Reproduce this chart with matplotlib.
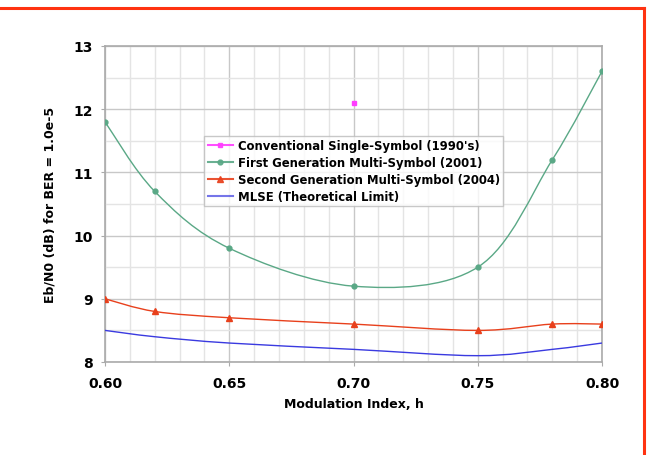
import numpy as np
import matplotlib
matplotlib.use("Agg")
import matplotlib.pyplot as plt
from matplotlib.path import Path
from matplotlib.patches import PathPatch
from matplotlib.lines import Line2D
from matplotlib.ticker import MultipleLocator, FormatStrFormatter

# data
h = [0.60, 0.62, 0.65, 0.70, 0.75, 0.78, 0.80]
first_gen = [11.8, 10.7, 9.8, 9.2, 9.5, 11.2, 12.6]
second_gen = [9.0, 8.8, 8.7, 8.6, 8.5, 8.6, 8.6]
mlse = [8.5, 8.4, 8.3, 8.2, 8.1, 8.2, 8.3]
conv_h = [0.70]
conv = [12.1]

labels = ["Conventional Single-Symbol (1990's)",
          "First Generation Multi-Symbol (2001)",
          "Second Generation Multi-Symbol (2004)",
          "MLSE (Theoretical Limit)"]

c_conv = "#ff3cff"
c_first = "#5aa886"
c_second = "#e8401c"
c_mlse = "#3a3ae0"


def smooth_path(x, y):
    # Excel-like smoothed line: Catmull-Rom segments as cubic Beziers
    x = np.asarray(x, float)
    y = np.asarray(y, float)
    verts = [(x[0], y[0])]
    codes = [Path.MOVETO]
    n = len(x)
    for i in range(n - 1):
        p0 = (x[max(i - 1, 0)], y[max(i - 1, 0)])
        p1 = (x[i], y[i])
        p2 = (x[i + 1], y[i + 1])
        p3 = (x[min(i + 2, n - 1)], y[min(i + 2, n - 1)])
        c1 = (p1[0] + (p2[0] - p0[0]) / 6, p1[1] + (p2[1] - p0[1]) / 6)
        c2 = (p2[0] - (p3[0] - p1[0]) / 6, p2[1] - (p3[1] - p1[1]) / 6)
        verts += [c1, c2, p2]
        codes += [Path.CURVE4] * 3
    return Path(verts, codes)


plt.rcParams['font.family'] = 'DejaVu Sans'
plt.rcParams['font.weight'] = 'bold'

fig = plt.figure(figsize=(6.47, 4.56), dpi=100)
ax = fig.add_axes([105 / 647, 1 - 363 / 456, 497 / 647, 316 / 456])

for yy, col in [(first_gen, c_first), (second_gen, c_second), (mlse, c_mlse)]:
    ax.add_patch(PathPatch(smooth_path(h, yy), facecolor='none',
                           edgecolor=col, lw=1.0, zorder=3))

ax.plot(conv_h, conv, ls='none', marker='s', ms=3.5, color=c_conv, zorder=4)
ax.plot(h, first_gen, ls='none', marker='o', ms=3.5, color=c_first, zorder=4)
ax.plot(h, second_gen, ls='none', marker='^', ms=4.5, color=c_second, zorder=4)

ax.set_xlim(0.60, 0.80)
ax.set_ylim(8, 13)
ax.xaxis.set_major_locator(MultipleLocator(0.05))
ax.xaxis.set_minor_locator(MultipleLocator(0.01))
ax.yaxis.set_major_locator(MultipleLocator(1))
ax.yaxis.set_minor_locator(MultipleLocator(0.5))
ax.xaxis.set_major_formatter(FormatStrFormatter('%.2f'))

ax.grid(which='major', color='#c8c8c8', lw=1.0, zorder=0)
ax.grid(which='minor', color='#e4e4e4', lw=1.0, zorder=0)
ax.set_axisbelow(True)

for s in ax.spines.values():
    s.set_color('#aaaaaa')
    s.set_linewidth(1.2)

ax.tick_params(which='major', length=3, color='#aaaaaa', labelsize=10, pad=6)
ax.tick_params(which='minor', length=0)
ax.tick_params(axis='x', pad=7)

ax.set_xlabel('Modulation Index, h', fontsize=9, fontweight='bold', labelpad=5)
ax.set_ylabel('Eb/N0 (dB) for BER = 1.0e-5', fontsize=9, fontweight='bold', labelpad=12)

handles = [
    Line2D([], [], color=c_conv, marker='s', ms=3.5, lw=1.5, alpha=0.9),
    Line2D([], [], color=c_first, marker='o', ms=3.5, lw=1.5, alpha=0.9),
    Line2D([], [], color=c_second, marker='^', ms=4.5, lw=1.5, alpha=0.9),
    Line2D([], [], color=c_mlse, lw=1.5, alpha=0.7),
]
leg = ax.legend(handles, labels, loc='upper left',
                bbox_to_anchor=((204 - 105) / 497, (363 - 137) / 316),
                fontsize=8.4, frameon=True, fancybox=False, handlelength=2.2,
                handletextpad=0.4, borderpad=0.3, labelspacing=0.32,
                borderaxespad=0)
leg.get_frame().set_edgecolor('#bbbbbb')
leg.get_frame().set_linewidth(1.0)
for t in leg.get_texts():
    t.set_fontweight('bold')

# red frame around the figure (top and right)
fig.add_artist(Line2D([0, 644 / 647], [1 - 9 / 456, 1 - 9 / 456],
                      transform=fig.transFigure, color='#ff3311', lw=2.2))
fig.add_artist(Line2D([644 / 647, 644 / 647], [1 - 9 / 456, 0],
                      transform=fig.transFigure, color='#ff3311', lw=2.2))

fig.savefig('out.png', dpi=100)
